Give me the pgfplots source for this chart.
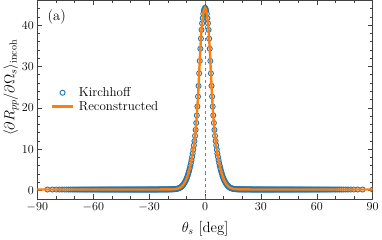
\documentclass[border=0pt]{standalone}
\usepackage{pgfplots}
\usepackage{pgfplotstable}
\pgfplotsset{compat=1.18}
\definecolor{cblue}{HTML}{1F77B4}
\definecolor{corange}{HTML}{FF7F0E}
\pgfplotsset{
  lineleg/.style={legend image code/.code={\draw[corange, line width=2.4pt] (0pt,0pt) -- (21pt,0pt);}},
  markleg/.style={legend image code/.code={\draw[cblue, line width=0.9pt] plot[mark=o, mark size=2.5pt] coordinates {(10.5pt,0pt)};}},
}

\pgfplotstableread[row sep=\\]{
s y\\
-0.9955 0.25\\ -0.99 0.25\\ -0.9845 0.25\\ -0.979 0.25\\ -0.9735 0.25\\ -0.968 0.25\\ -0.9625 0.25\\ -0.957 0.25\\ -0.9515 0.25\\ -0.946 0.25\\
-0.9405 0.25\\ -0.935 0.25\\ -0.9295 0.25\\ -0.924 0.25\\ -0.9185 0.25\\ -0.913 0.25\\ -0.9075 0.25\\ -0.902 0.25\\ -0.8965 0.25\\ -0.891 0.25\\
-0.8855 0.25\\ -0.88 0.25\\ -0.8745 0.25\\ -0.869 0.25\\ -0.8635 0.25\\ -0.858 0.25\\ -0.8525 0.25\\ -0.847 0.25\\ -0.8415 0.25\\ -0.836 0.25\\
-0.8305 0.25\\ -0.825 0.25\\ -0.8195 0.25\\ -0.814 0.25\\ -0.8085 0.25\\ -0.803 0.25\\ -0.7975 0.25\\ -0.792 0.25\\ -0.7865 0.25\\ -0.781 0.25\\
-0.7755 0.25\\ -0.77 0.25\\ -0.7645 0.25\\ -0.759 0.25\\ -0.7535 0.25\\ -0.748 0.25\\ -0.7425 0.25\\ -0.737 0.25\\ -0.7315 0.25\\ -0.726 0.25\\
-0.7205 0.25\\ -0.715 0.25\\ -0.7095 0.25\\ -0.704 0.25\\ -0.6985 0.25\\ -0.693 0.25\\ -0.6875 0.25\\ -0.682 0.25\\ -0.6765 0.25\\ -0.671 0.25\\
-0.6655 0.25\\ -0.66 0.25\\ -0.6545 0.25\\ -0.649 0.25\\ -0.6435 0.25\\ -0.638 0.25\\ -0.6325 0.25\\ -0.627 0.25\\ -0.6215 0.25\\ -0.616 0.25\\
-0.6105 0.25\\ -0.605 0.25\\ -0.5995 0.25\\ -0.594 0.25\\ -0.5885 0.25\\ -0.583 0.25\\ -0.5775 0.25\\ -0.572 0.25\\ -0.5665 0.25\\ -0.561 0.25\\
-0.5555 0.25\\ -0.55 0.25\\ -0.5445 0.25\\ -0.539 0.25\\ -0.5335 0.25\\ -0.528 0.25\\ -0.5225 0.25\\ -0.517 0.25\\ -0.5115 0.25\\ -0.506 0.25\\
-0.5005 0.25\\
-0.495 0.255\\ -0.4895 0.255\\ -0.484 0.255\\ -0.4785 0.255\\ -0.473 0.255\\ -0.4675 0.255\\ -0.462 0.255\\ -0.4565 0.255\\ -0.451 0.255\\ -0.4455 0.255\\
-0.44 0.255\\ -0.4345 0.255\\ -0.429 0.255\\ -0.4235 0.255\\
-0.418 0.27\\ -0.4125 0.27\\ -0.407 0.27\\ -0.4015 0.27\\ -0.396 0.27\\ -0.3905 0.27\\ -0.385 0.27\\ -0.3795 0.27\\ -0.374 0.27\\ -0.3685 0.27\\
-0.363 0.27\\ -0.3575 0.27\\ -0.352 0.27\\ -0.3465 0.27\\
-0.341 0.28\\ -0.3355 0.284\\ -0.33 0.287\\ -0.3245 0.29\\ -0.319 0.294\\ -0.3135 0.297\\ -0.308 0.30\\ -0.3025 0.31\\ -0.297 0.315\\ -0.2915 0.32\\
-0.286 0.335\\ -0.2805 0.35\\ -0.275 0.36\\ -0.2695 0.39\\ -0.264 0.41\\ -0.2585 0.43\\ -0.253 0.48\\ -0.2475 0.52\\ -0.242 0.57\\ -0.2365 0.64\\
-0.231 0.72\\ -0.2255 0.81\\ -0.22 0.93\\ -0.2145 1.06\\ -0.209 1.22\\ -0.2035 1.41\\ -0.198 1.61\\ -0.1925 1.83\\ -0.187 2.08\\ -0.1815 2.35\\
-0.176 2.66\\ -0.1705 3.02\\ -0.165 3.40\\ -0.1595 3.85\\ -0.154 4.33\\ -0.1485 4.84\\ -0.143 5.40\\ -0.1375 5.99\\ -0.132 6.63\\ -0.1265 7.36\\
-0.121 8.13\\ -0.1155 8.96\\ -0.11 9.89\\ -0.1045 10.91\\ -0.099 11.98\\ -0.0935 13.22\\ -0.088 14.67\\ -0.0825 16.35\\ -0.077 18.17\\ -0.0715 20.32\\
-0.066 22.73\\ -0.0605 25.31\\ -0.055 28.33\\ -0.0495 31.33\\ -0.044 34.29\\ -0.0385 36.73\\ -0.033 38.85\\ -0.0275 40.42\\ -0.022 41.66\\ -0.0165 42.73\\
-0.011 43.49\\ -0.0055 43.95\\
0 44.2\\
0.0055 43.95\\ 0.011 43.49\\
0.0165 42.73\\ 0.022 41.66\\ 0.0275 40.42\\ 0.033 38.85\\ 0.0385 36.73\\ 0.044 34.29\\ 0.0495 31.33\\ 0.055 28.33\\ 0.0605 25.31\\ 0.066 22.73\\
0.0715 20.32\\ 0.077 18.17\\ 0.0825 16.35\\ 0.088 14.67\\ 0.0935 13.22\\ 0.099 11.98\\ 0.1045 10.91\\ 0.11 9.89\\ 0.1155 8.96\\ 0.121 8.13\\
0.1265 7.36\\ 0.132 6.63\\ 0.1375 5.99\\ 0.143 5.40\\ 0.1485 4.84\\ 0.154 4.33\\ 0.1595 3.85\\ 0.165 3.40\\ 0.1705 3.02\\ 0.176 2.66\\
0.1815 2.35\\ 0.187 2.08\\ 0.1925 1.83\\ 0.198 1.61\\ 0.2035 1.41\\ 0.209 1.22\\ 0.2145 1.06\\ 0.22 0.93\\ 0.2255 0.81\\ 0.231 0.72\\
0.2365 0.64\\ 0.242 0.57\\ 0.2475 0.52\\ 0.253 0.48\\ 0.2585 0.43\\ 0.264 0.41\\ 0.2695 0.39\\ 0.275 0.36\\ 0.2805 0.35\\ 0.286 0.335\\
0.2915 0.32\\ 0.297 0.315\\ 0.3025 0.31\\ 0.308 0.30\\ 0.3135 0.297\\ 0.319 0.294\\ 0.3245 0.29\\ 0.33 0.287\\ 0.3355 0.284\\ 0.341 0.28\\
0.3465 0.27\\ 0.352 0.27\\ 0.3575 0.27\\ 0.363 0.27\\ 0.3685 0.27\\ 0.374 0.27\\ 0.3795 0.27\\ 0.385 0.27\\ 0.3905 0.27\\ 0.396 0.27\\
0.4015 0.27\\ 0.407 0.27\\ 0.4125 0.27\\ 0.418 0.27\\
0.4235 0.255\\ 0.429 0.255\\ 0.4345 0.255\\ 0.44 0.255\\ 0.4455 0.255\\ 0.451 0.255\\ 0.4565 0.255\\ 0.462 0.255\\ 0.4675 0.255\\ 0.473 0.255\\
0.4785 0.255\\ 0.484 0.255\\ 0.4895 0.255\\ 0.495 0.255\\
0.5005 0.25\\
0.506 0.25\\ 0.5115 0.25\\ 0.517 0.25\\ 0.5225 0.25\\ 0.528 0.25\\ 0.5335 0.25\\ 0.539 0.25\\ 0.5445 0.25\\ 0.55 0.25\\ 0.5555 0.25\\
0.561 0.25\\ 0.5665 0.25\\ 0.572 0.25\\ 0.5775 0.25\\ 0.583 0.25\\ 0.5885 0.25\\ 0.594 0.25\\ 0.5995 0.25\\ 0.605 0.25\\ 0.6105 0.25\\
0.616 0.25\\ 0.6215 0.25\\ 0.627 0.25\\ 0.6325 0.25\\ 0.638 0.25\\ 0.6435 0.25\\ 0.649 0.25\\ 0.6545 0.25\\ 0.66 0.25\\ 0.6655 0.25\\
0.671 0.25\\ 0.6765 0.25\\ 0.682 0.25\\ 0.6875 0.25\\ 0.693 0.25\\ 0.6985 0.25\\ 0.704 0.25\\ 0.7095 0.25\\ 0.715 0.25\\ 0.7205 0.25\\
0.726 0.25\\ 0.7315 0.25\\ 0.737 0.25\\ 0.7425 0.25\\ 0.748 0.25\\ 0.7535 0.25\\ 0.759 0.25\\ 0.7645 0.25\\ 0.77 0.25\\ 0.7755 0.25\\
0.781 0.25\\ 0.7865 0.25\\ 0.792 0.25\\ 0.7975 0.25\\ 0.803 0.25\\ 0.8085 0.25\\ 0.814 0.25\\ 0.8195 0.25\\ 0.825 0.25\\ 0.8305 0.25\\
0.836 0.25\\ 0.8415 0.25\\ 0.847 0.25\\ 0.8525 0.25\\ 0.858 0.25\\ 0.8635 0.25\\ 0.869 0.25\\ 0.8745 0.25\\ 0.88 0.25\\ 0.8855 0.25\\
0.891 0.25\\ 0.8965 0.25\\ 0.902 0.25\\ 0.9075 0.25\\ 0.913 0.25\\ 0.9185 0.25\\ 0.924 0.25\\ 0.9295 0.25\\ 0.935 0.25\\ 0.9405 0.25\\
0.946 0.25\\ 0.9515 0.25\\ 0.957 0.25\\ 0.9625 0.25\\ 0.968 0.25\\ 0.9735 0.25\\ 0.979 0.25\\ 0.9845 0.25\\ 0.99 0.25\\ 0.9955 0.25\\
1.0 0.25\\
}\kirch

\pgfplotstableread[row sep=\\]{
t y\\
-90 0.25\\ -30 0.25\\ -25 0.26\\ -20 0.28\\ -18 0.30\\ -17 0.32\\ -16 0.36\\ -15 0.43\\ -14 0.57\\ -13.5 0.68\\
-13 0.82\\ -12.5 1.0\\ -12 1.25\\ -11.5 1.55\\ -11 1.9\\ -10.5 2.3\\ -10 2.8\\ -9.5 3.4\\ -9 4.1\\ -8.5 4.9\\
-8 5.8\\ -7.5 6.8\\ -7 8.0\\ -6.5 9.3\\ -6 10.9\\ -5.5 12.6\\ -5 14.9\\ -4.5 17.6\\ -4 21.0\\ -3.5 25.0\\
-3 29.8\\ -2.5 34.5\\ -2 38.3\\ -1.5 40.8\\ -1 42.6\\ -0.5 43.8\\ 0 44.2\\
0.5 43.8\\ 1 42.6\\ 1.5 40.8\\ 2 38.3\\ 2.5 34.5\\ 3 29.8\\ 3.5 25.0\\ 4 21.0\\ 4.5 17.6\\ 5 14.9\\
5.5 12.6\\ 6 10.9\\ 6.5 9.3\\ 7 8.0\\ 7.5 6.8\\ 8 5.8\\ 8.5 4.9\\ 9 4.1\\ 9.5 3.4\\ 10 2.8\\
10.5 2.3\\ 11 1.9\\ 11.5 1.55\\ 12 1.25\\ 12.5 1.0\\ 13 0.82\\ 13.5 0.68\\ 14 0.57\\ 15 0.43\\ 16 0.36\\
17 0.32\\ 18 0.30\\ 20 0.28\\ 25 0.26\\ 30 0.25\\ 90 0.25\\
}\recon

\begin{document}
\begin{tikzpicture}
\begin{axis}[
  scale only axis, width=331pt, height=196pt,
  xmin=-90, xmax=90, ymin=-2, ymax=46,
  clip marker paths=true,
  xtick={-90,-60,...,90}, minor xtick={-80,-70,...,80},
  ytick={0,10,...,40}, minor ytick={-2,0,...,46},
  tick align=inside, major tick length=5pt, minor tick length=2.8pt,
  axis line style={black!75, line width=0.6pt},
  every tick/.style={black!75, line width=0.5pt},
  ticklabel style={font=\fontsize{12.6}{14}\selectfont},
  xlabel={$\theta_s$ [deg]},
  xlabel style={font=\fontsize{14.6}{16}\selectfont, at={(axis description cs:0.5,-0.15)}, anchor=center},
  ylabel={$\langle\partial R_{pp}/\partial\Omega_s\rangle_{\mathrm{incoh}}$},
  ylabel style={font=\fontsize{14.6}{16}\selectfont, at={(axis description cs:-0.079,0.56)}, anchor=center},
  legend style={draw=none, fill=none, at={(rel axis cs:0.03,0.58)}, anchor=north west,
    font=\fontsize{12.8}{15}\selectfont, nodes={inner sep=1.5pt},
    row sep=0pt, column sep=3pt},
  legend cell align=left,
]
\addplot[forget plot, gray, dashed, line width=0.6pt] coordinates {(0,-2) (0,46)};
\addplot[only marks, mark=o, mark size=2.5pt, cblue, line width=0.9pt, markleg]
  table[x expr={asin(\thisrow{s})}, y=y] {\kirch};
\addlegendentry{Kirchhoff}
\addplot[corange, line width=2.4pt, lineleg]
  table[x=t, y=y] {\recon};
\addlegendentry{Reconstructed}
\node[anchor=north west, inner sep=0pt, font=\fontsize{14.3}{16}\selectfont] at (rel axis cs:0.03,0.955) {(a)};
\end{axis}
\end{tikzpicture}
\end{document}
